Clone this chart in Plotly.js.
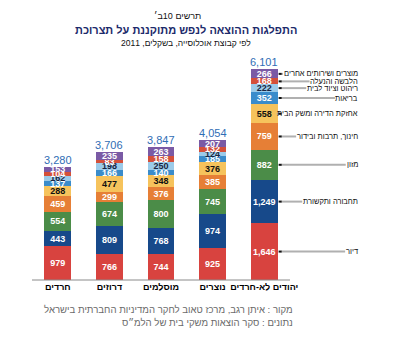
<!DOCTYPE html>
<html>
<head>
<meta charset="utf-8">
<script src="https://cdn.plot.ly/plotly-3.0.1.min.js"></script>
<style>html,body{margin:0;padding:0;background:#fff}#chart{width:393px;height:355px}</style>
</head>
<body>
<div id="chart"></div>
<script>
const categories = ['חרדים', 'דרוזים', 'מוסלמים', 'נוצרים', 'יהודים לא-חרדים'];
const seriesNames = ['דיור', 'תחבורה ותקשורת', 'מזון', 'חינוך, תרבות ובידור', 'אחזקת הדירה ומשק הבית', 'בריאות', 'ריהוט וציוד לבית', 'הלבשה והנעלה', 'מוצרים ושירותים אחרים'];
const housing   = [979, 766, 744, 925, 1646];
const transport = [443, 809, 768, 974, 1249];
const food      = [554, 674, 800, 745, 882];
const education = [459, 299, 376, 385, 759];
const upkeep    = [288, 477, 348, 376, 558];
const health    = [137, 166, 140, 185, 352];
const furniture = [162, 198, 250, 124, 222];
const clothing  = [104, 83, 158, 132, 168];
const other     = [153, 235, 263, 207, 266];
const totals    = [3280, 3706, 3847, 4054, 6101];

const seriesValues = [housing, transport, food, education, upkeep, health, furniture, clothing, other];
const colors = ['#d8433f', '#17498a', '#4b8c48', '#e67f36', '#f6c35c', '#3a8ccb', '#9ccbe9', '#d4503a', '#7a5aa5'];
const textColors = ['#fff', '#fff', '#fff', '#fff', '#111', '#fff', '#1a2540', '#fff', '#fff'];

const FONT = '"Liberation Sans", Arial, sans-serif';
const LABEL_SIZE = 7.5;
const W = 393, H = 355;
const M = {l: 32, r: 13, t: 55, b: 75};
const PLOT_W = W - M.l - M.r;          // plot area widened to hold the side labels
const CAT_PX = 51.6;                    // pixel width of one category slot
const BARGAP = 0.48;
const xMax = -0.5 + PLOT_W / CAT_PX;    // extra empty room right of the last bar
const PX = px => (px - M.l) / PLOT_W;   // absolute pixel x -> paper x

// measure label widths so each leader line stops just before its text
const measureCtx = document.createElement('canvas').getContext('2d');
measureCtx.font = LABEL_SIZE + 'px "Liberation Sans", Arial, sans-serif';
const textWidth = s => measureCtx.measureText(s).width;

const traces = seriesValues.map((vals, i) => ({
  type: 'bar',
  name: seriesNames[i],
  x: categories,
  y: vals,
  marker: {color: colors[i], line: {width: 0}},
  text: vals.map(v => v.toLocaleString('en-US')),
  textposition: 'inside',
  insidetextanchor: 'middle',
  constraintext: 'none',
  textangle: 0,
  textfont: {family: FONT, size: 9, color: textColors[i], weight: 'bold'},
  hoverinfo: 'none'
}));

const annotations = [];
const shapes = [];
// axis base line only under the categories
shapes.push({type: 'line', xref: 'x', yref: 'paper', x0: -0.5, x1: categories.length - 0.5, y0: 0, y1: 0,
  line: {color: '#8a8a8a', width: 1}});
// totals above bars
categories.forEach((c, k) => {
  annotations.push({
    x: c, y: totals[k], xref: 'x', yref: 'y', yanchor: 'bottom',
    text: totals[k].toLocaleString('en-US'), showarrow: false,
    font: {family: FONT, size: 11, color: '#2f6db5'}, yshift: -1
  });
});
// right side series labels for last category
const last = categories.length - 1;
const BAR_EDGE = (1 - BARGAP) / 2 * CAT_PX;   // px from category centre to bar edge
const TEXT_RIGHT = 96;                         // px from category centre to right edge of labels
const dx = px => last + px / CAT_PX;           // px offset from last centre -> data x
let cum = 0;
seriesValues.forEach((vals, i) => {
  const mid = cum + vals[last] / 2;
  cum += vals[last];
  const textStart = TEXT_RIGHT - textWidth(seriesNames[i]) - 3;
  shapes.push({
    type: 'line', xref: 'x', yref: 'y',
    x0: dx(BAR_EDGE + 3), x1: dx(textStart), y0: mid, y1: mid,
    line: {color: '#b0b0b0', width: 2}
  });
  shapes.push({
    type: 'line', xref: 'x', yref: 'y',
    x0: dx(BAR_EDGE + 1), x1: dx(BAR_EDGE + 4), y0: mid, y1: mid,
    line: {color: '#111', width: 2}
  });
  annotations.push({
    x: categories[last], y: mid, xref: 'x', yref: 'y',
    xshift: TEXT_RIGHT, xanchor: 'right', yanchor: 'middle',
    text: seriesNames[i], showarrow: false,
    font: {family: FONT, size: LABEL_SIZE, color: '#111'}
  });
});
// titles
const paperNote = (x, y, text, font, xanchor) => ({
  xref: 'paper', yref: 'paper', x: x, y: y, xanchor: xanchor || 'center', yanchor: 'middle',
  text: text, showarrow: false, font: font
});
annotations.push(paperNote(PX(177), 1.173, 'תרשים 10ב׳', {family: FONT, size: 9, color: '#111'}));
annotations.push(paperNote(PX(186), 1.111, 'התפלגות ההוצאה לנפש מתוקננת על תצרוכת', {family: FONT, size: 11, color: '#1c2a6b', weight: 'bold'}));
annotations.push(paperNote(PX(186), 1.053, 'לפי קבוצת אוכלוסייה, בשקלים, 2011', {family: FONT, size: 8.5, color: '#111'}));
// source
annotations.push(paperNote(PX(295), -0.133, 'מקור : איתן רגב, מרכז טאוב לחקר המדיניות החברתית בישראל', {family: FONT, size: 9.6, color: '#6a6a6a'}, 'right'));
annotations.push(paperNote(PX(295), -0.187, 'נתונים : סקר הוצאות משקי בית של הלמ״ס', {family: FONT, size: 9.6, color: '#6a6a6a'}, 'right'));

const layout = {
  width: W, height: H,
  margin: {l: M.l, r: M.r, t: M.t, b: M.b, autoexpand: false},
  barmode: 'stack',
  bargap: BARGAP,
  showlegend: false,
  paper_bgcolor: '#fff', plot_bgcolor: '#fff',
  font: {family: FONT},
  xaxis: {
    type: 'category', range: [-0.5, xMax], autorange: false,
    showline: false, ticks: '', showgrid: false, zeroline: false, tickangle: 0, automargin: false,
    tickfont: {family: FONT, size: 9, color: '#000', weight: 'bold'}
  },
  yaxis: {range: [0, 6516], autorange: false, visible: false, showgrid: false, zeroline: false, automargin: false},
  annotations: annotations,
  shapes: shapes
};

Plotly.newPlot('chart', traces, layout, {displayModeBar: false, staticPlot: true});
</script>
</body>
</html>
